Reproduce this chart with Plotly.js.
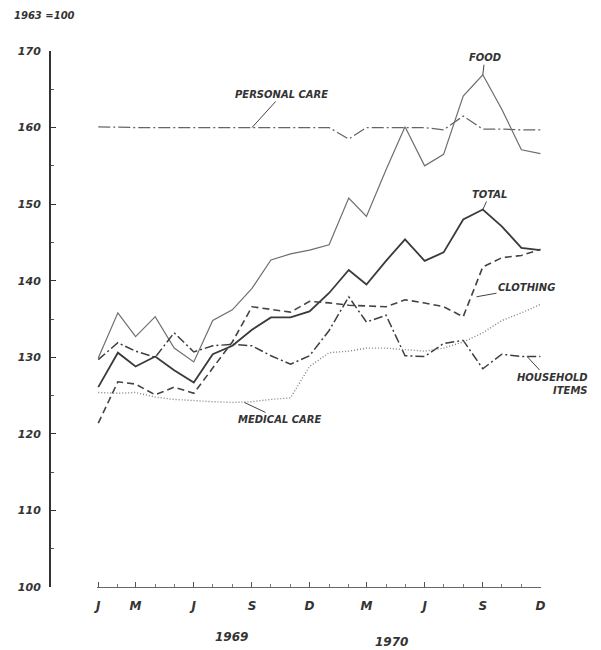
<!DOCTYPE html>
<html>
<head>
<meta charset="utf-8">
<script src="https://cdn.plot.ly/plotly-3.0.1.min.js"></script>
<style>html,body{margin:0;padding:0;background:#fff;}#chart{width:601px;height:650px;}</style>
</head>
<body>
<div id="chart"></div>
<script>
// Monthly index values, 1963 = 100
const months = ['1969-01','1969-02','1969-03','1969-04','1969-05','1969-06','1969-07','1969-08','1969-09','1969-10','1969-11','1969-12',
                '1970-01','1970-02','1970-03','1970-04','1970-05','1970-06','1970-07','1970-08','1970-09','1970-10','1970-11','1970-12'];
const food = [129.9, 135.8, 132.7, 135.3, 131.2, 129.4, 134.8, 136.2, 139.0, 142.7, 143.5, 144.0,
              144.7, 150.8, 148.4, 154.5, 160.1, 155.0, 156.5, 164.1, 166.9, 162.4, 157.1, 156.6];
const personalCare = [160.1, 160.0, 160.0, 160.0, 160.0, 160.0, 160.0, 160.0, 160.0, 160.0, 160.0, 160.0,
                      160.0, 158.5, 160.0, 160.0, 160.0, 160.0, 159.7, 161.5, 159.8, 159.8, 159.7, 159.7];
const total = [126.1, 130.6, 128.8, 130.1, 128.3, 126.7, 130.4, 131.5, 133.6, 135.2, 135.2, 136.0,
               138.4, 141.4, 139.5, 142.6, 145.4, 142.6, 143.7, 148.0, 149.3, 147.1, 144.3, 144.0];
const clothing = [121.4, 126.8, 126.5, 125.1, 126.1, 125.3, 128.6, 132.0, 136.6, 136.3, 135.9, 137.3,
                  137.1, 136.8, 136.7, 136.6, 137.5, 137.1, 136.6, 135.3, 141.8, 143.0, 143.3, 144.1];
const household = [129.7, 131.9, 130.8, 130.0, 133.2, 130.7, 131.5, 131.7, 131.5, 130.2, 129.1, 130.2,
                   133.5, 137.9, 134.6, 135.5, 130.2, 130.1, 131.8, 132.2, 128.5, 130.4, 130.1, 130.1];
const medical = [125.4, 125.3, 125.4, 124.8, 124.5, 124.3, 124.2, 124.1, 124.2, 124.5, 124.7, 128.8,
                 130.6, 130.8, 131.2, 131.2, 131.0, 130.8, 131.2, 132.0, 133.2, 134.8, 135.8, 136.9];
const tickMonths = ['1969-01','1969-03','1969-06','1969-09','1969-12','1970-03','1970-06','1970-09','1970-12'];
const tickLetters = ['J','M','J','S','D','M','J','S','D'];
const yTicks = [100, 110, 120, 130, 140, 150, 160, 170];

const lab = {family: 'DejaVu Sans', size: 10, color: '#333', weight: 'bold', style: 'italic'};

const traces = [
  {x: months, y: personalCare, name: 'Personal care', mode: 'lines', line: {color: '#666', width: 1.3, dash: '12px,3px,2px,3px'}},
  {x: months, y: food, name: 'Food', mode: 'lines', line: {color: '#6e6e6e', width: 1.2}},
  {x: months, y: total, name: 'Total', mode: 'lines', line: {color: '#3a3a3a', width: 1.8}},
  {x: months, y: clothing, name: 'Clothing', mode: 'lines', line: {color: '#444', width: 1.6, dash: '7px,4px'}},
  {x: months, y: household, name: 'Household items', mode: 'lines', line: {color: '#3e3e3e', width: 1.5, dash: '9px,3px,2px,3px'}},
  {x: months, y: medical, name: 'Medical care', mode: 'lines', line: {color: '#808080', width: 1.4, dash: '1px,2px'}}
];

function leader(x, y, text, ax, ay, extra) {
  return Object.assign({x: x, y: y, xref: 'x', yref: 'y', text: text, showarrow: true, arrowhead: 0,
    arrowwidth: 1, arrowcolor: '#444', ax: ax, ay: ay, font: lab, standoff: 0}, extra || {});
}

const layout = {
  width: 601, height: 650,
  margin: {l: 50, r: 11, t: 51, b: 63},
  paper_bgcolor: '#fff', plot_bgcolor: '#fff',
  showlegend: false,
  xaxis: {
    type: 'date', domain: [47/540, 491/540], range: ['1968-12-30', '1970-12-02'],
    showgrid: false, zeroline: false, showline: true, linecolor: '#666', linewidth: 1,
    tickmode: 'array', tickvals: tickMonths, ticktext: tickLetters,
    ticks: 'inside', ticklen: 5, tickcolor: '#555', tickwidth: 1, ticklabelstandoff: 8,
    tickfont: {family: 'DejaVu Sans', size: 12, color: '#333', weight: 'bold', style: 'italic'},
    minor: {dtick: 'M1', ticks: 'inside', ticklen: 3, tickcolor: '#777', showgrid: false}
  },
  yaxis: {
    anchor: 'free', position: 0, range: [100, 170],
    showgrid: false, zeroline: false, showline: true, linecolor: '#333', linewidth: 2,
    tickmode: 'array', tickvals: yTicks, ticks: 'inside', ticklen: 5, tickcolor: '#333',
    ticklabelstandoff: 6,
    tickfont: {family: 'DejaVu Sans', size: 11, color: '#333', weight: 'bold', style: 'italic'},
    minor: {dtick: 5, ticks: 'inside', ticklen: 3, tickcolor: '#555', showgrid: false}
  },
  annotations: [
    {xref: 'paper', yref: 'paper', x: -0.07, y: 1.066, xanchor: 'left', yanchor: 'middle', showarrow: false,
     text: '1963 =100', font: {family: 'DejaVu Sans', size: 10, color: '#333', weight: 'bold', style: 'italic'}},
    leader('1970-09-01', 166.9, 'FOOD', 2, -17),
    leader('1969-09-01', 160.0, 'PERSONAL CARE', 30, -33),
    leader('1970-09-01', 149.3, 'TOTAL', 7, -15),
    leader('1970-08-22', 137.9, 'CLOTHING', 50, -9),
    leader('1970-11-10', 130.1, 'HOUSEHOLD<br>ITEMS', 25, 27, {align: 'right'}),
    leader('1969-08-20', 124.1, 'MEDICAL CARE', 36, 17),
    {xref: 'paper', yref: 'paper', x: 0.302, y: -0.093, yanchor: 'middle', showarrow: false, text: '1969',
     font: {family: 'DejaVu Sans', size: 12, color: '#333', weight: 'bold', style: 'italic'}},
    {xref: 'paper', yref: 'paper', x: 0.667, y: -0.103, yanchor: 'middle', showarrow: false, text: '1970',
     font: {family: 'DejaVu Sans', size: 12, color: '#333', weight: 'bold', style: 'italic'}}
  ]
};

Plotly.newPlot('chart', traces, layout, {staticPlot: true, displayModeBar: false});
</script>
</body>
</html>
